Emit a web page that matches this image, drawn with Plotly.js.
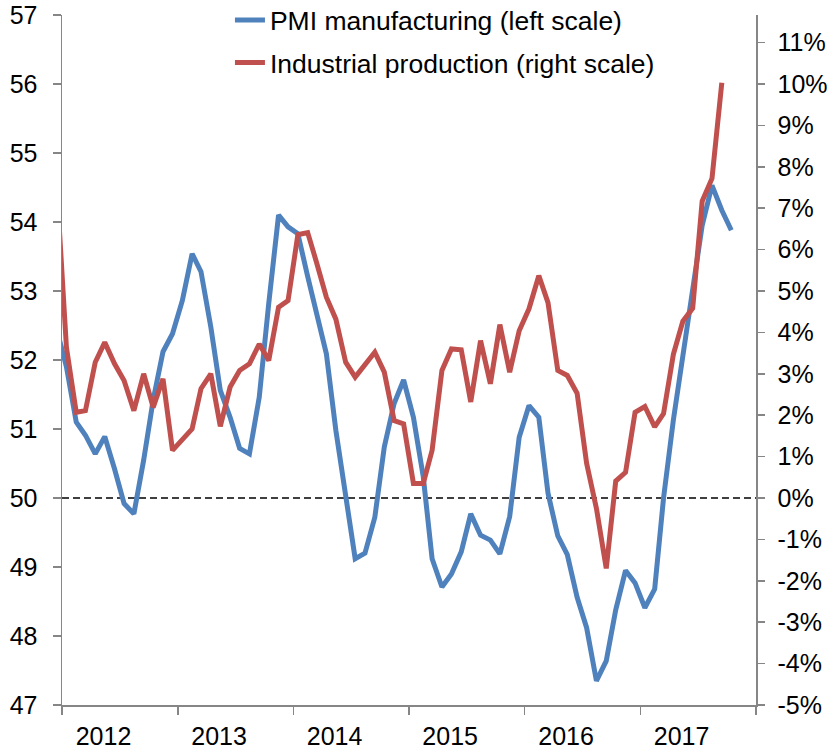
<!DOCTYPE html>
<html>
<head>
<meta charset="utf-8">
<script src="https://cdn.plot.ly/plotly-3.0.1.min.js"></script>
<style>
html,body{margin:0;padding:0;background:#fff;}
#chart{width:832px;height:750px;}
</style>
</head>
<body>
<div id="chart"></div>
<script>
// Months (mid-month dates), Dec 2011 .. Oct 2017
const months = [
  '2011-12',
  '2012-01','2012-02','2012-03','2012-04','2012-05','2012-06','2012-07','2012-08','2012-09','2012-10','2012-11','2012-12',
  '2013-01','2013-02','2013-03','2013-04','2013-05','2013-06','2013-07','2013-08','2013-09','2013-10','2013-11','2013-12',
  '2014-01','2014-02','2014-03','2014-04','2014-05','2014-06','2014-07','2014-08','2014-09','2014-10','2014-11','2014-12',
  '2015-01','2015-02','2015-03','2015-04','2015-05','2015-06','2015-07','2015-08','2015-09','2015-10','2015-11','2015-12',
  '2016-01','2016-02','2016-03','2016-04','2016-05','2016-06','2016-07','2016-08','2016-09','2016-10','2016-11','2016-12',
  '2017-01','2017-02','2017-03','2017-04','2017-05','2017-06','2017-07','2017-08','2017-09','2017-10'
];

// PMI manufacturing (left scale), Dec 2011 .. Oct 2017
const pmi = [
  52.45,
  51.9, 51.10, 50.91, 50.64, 50.89, 50.42, 49.92, 49.77, 50.55, 51.42, 52.12, 52.38,
  52.86, 53.54, 53.28, 52.48, 51.56, 51.17, 50.72, 50.64, 51.46, 52.82, 54.10, 53.93,
  53.83, 53.21, 52.65, 52.09, 50.98, 50.06, 49.12, 49.20, 49.72, 50.74, 51.37, 51.71,
  51.17, 50.31, 49.12, 48.71, 48.90, 49.22, 49.77, 49.46, 49.39, 49.19, 49.73, 50.88,
  51.34, 51.17, 50.07, 49.45, 49.18, 48.56, 48.12, 47.35, 47.64, 48.38, 48.95, 48.77,
  48.41, 48.68, 50.0, 51.13, 52.10, 53.07, 53.95, 54.53, 54.17, 53.88
];

// Industrial production, y/y % (right scale), Dec 2011 .. Sep 2017
const ip = [
  7.6,
  3.64, 2.07, 2.11, 3.28, 3.76, 3.24, 2.84, 2.11, 3.00, 2.19, 2.88, 1.15,
  1.43, 1.67, 2.64, 3.00, 1.73, 2.68, 3.08, 3.24, 3.72, 3.32, 4.61, 4.77,
  6.36, 6.41, 5.69, 4.85, 4.32, 3.28, 2.92, 3.24, 3.52, 3.04, 1.87, 1.79,
  0.35, 0.35, 1.15, 3.08, 3.60, 3.58, 2.32, 3.80, 2.76, 4.19, 3.04, 4.04,
  4.57, 5.37, 4.72, 3.08, 2.96, 2.53, 0.84, -0.25, -1.70, 0.41, 0.62, 2.07,
  2.21, 1.72, 2.04, 3.47, 4.27, 4.58, 7.17, 7.72, 10.03
];

const yearLabels = ['2012','2013','2014','2015','2016','2017'];
const leftTicks = [47,48,49,50,51,52,53,54,55,56,57];
const rightTicks = [-5,-4,-3,-2,-1,0,1,2,3,4,5,6,7,8,9,10,11];
const threshold = 50;
const seriesNames = ['PMI manufacturing (left scale)', 'Industrial production (right scale)'];

const toDate = m => m + '-15';
const xPmi = months.slice(0, pmi.length).map(toDate);
const xIp = months.slice(0, ip.length).map(toDate);

const gray = '#868686';
const font = 'Liberation Sans, Arial, sans-serif';

const traces = [
  {x: xPmi, y: pmi, type: 'scatter', mode: 'lines', name: seriesNames[0],
   line: {color: '#4F81BD', width: 5}, yaxis: 'y', legendgroup: 'a'},
  {x: xIp, y: ip, type: 'scatter', mode: 'lines', name: seriesNames[1],
   line: {color: '#C0504D', width: 5}, yaxis: 'y2', legendgroup: 'b'}
];

const layout = {
  width: 832, height: 750, autosize: false,
  margin: {l: 62, r: 76, t: 15, b: 45, autoexpand: false},
  paper_bgcolor: '#fff', plot_bgcolor: '#fff',
  font: {family: font, size: 25, color: '#000'},
  showlegend: true,
  legend: {x: 0.242, y: 1.027, xanchor: 'left', yanchor: 'top',
           bgcolor: 'rgba(0,0,0,0)', font: {size: 26.5, family: font, color: '#000'},
           traceorder: 'grouped', tracegroupgap: 5},
  xaxis: {
    type: 'date',
    range: ['2012-01-01', '2018-01-01'],
    tickmode: 'array',
    tickvals: yearLabels.map(y => y + '-05-11'),
    ticktext: yearLabels,
    ticks: '',
    showline: true, linecolor: gray, linewidth: 1.5,
    showgrid: false, zeroline: false,
    tickfont: {size: 25, family: font, color: '#000'},
    ticklabelstandoff: 8,
    minor: {tickmode: 'array', tickvals: ['2012-01-01','2013-01-01','2014-01-01','2015-01-01','2016-01-01','2017-01-01','2018-01-01'],
            ticks: 'outside', ticklen: 8, tickwidth: 1.5, tickcolor: gray, showgrid: false}
  },
  yaxis: {
    range: [47, 57],
    tickmode: 'array', tickvals: leftTicks, ticktext: leftTicks.map(String),
    ticks: 'outside', ticklen: 8, tickwidth: 1.5, tickcolor: gray,
    showline: true, linecolor: gray, linewidth: 1.5,
    showgrid: false, zeroline: false,
    tickfont: {size: 25, family: font, color: '#000'},
    ticklabelstandoff: 10
  },
  yaxis2: {
    overlaying: 'y', side: 'right',
    range: [-5, 5 * (57 - 50) / 3],
    tickmode: 'array', tickvals: rightTicks, ticktext: rightTicks.map(v => v + '%'),
    ticks: 'outside', ticklen: 7, tickwidth: 1.5, tickcolor: gray,
    showline: true, linecolor: gray, linewidth: 1.5,
    showgrid: false, zeroline: false,
    tickfont: {size: 25, family: font, color: '#000'},
    ticklabelstandoff: 8
  },
  shapes: [
    {type: 'line', xref: 'paper', x0: 0, x1: 1, yref: 'y', y0: threshold, y1: threshold,
     line: {color: '#000', width: 1.5, dash: '7px,4px'}, layer: 'below'}
  ]
};

Plotly.newPlot('chart', traces, layout, {staticPlot: true, displayModeBar: false});
</script>
</body>
</html>
